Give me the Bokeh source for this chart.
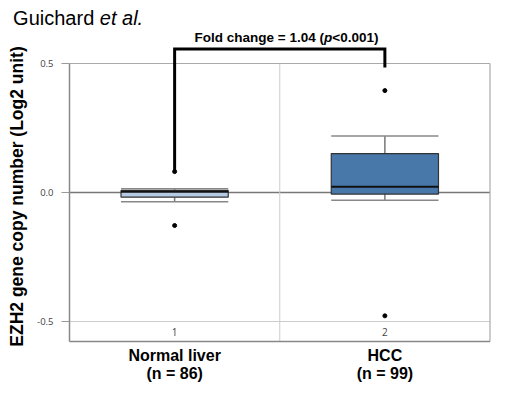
import math
from bokeh.plotting import figure
from bokeh.models import Range1d, ColumnDataSource
from bokeh.transform import dodge
from bokeh.core.properties import value
from bokeh.embed import file_html
from bokeh.resources import INLINE

# ---- data ----
groups = [1, 2]
group_labels = ["Normal liver", "HCC"]
group_counts = ["(n = 86)", "(n = 99)"]
tick_names = ["1", "2"]
q1 = [-0.018, -0.006]
q3 = [0.008, 0.151]
median = [0.003, 0.022]
whisker_low = [-0.036, -0.030]
whisker_high = [0.015, 0.219]
outlier_group = [1, 1, 2, 2]
outlier_value = [0.081, -0.128, 0.395, -0.478]
box_colors = ["#b4cbe3", "#4877aa"]
fold_text = ["Fold change = 1.04 (", "p", "<0.001)"]
title_text = ["Guichard", "et al."]
y_title = "EZH2 gene copy number (Log2 unit)"
y_ticks = [-0.5, 0.0, 0.5]
y_tick_labels = ["%.1f" % t for t in y_ticks]

FONT = value("Liberation Sans")

# the frame spans the whole canvas; visible plot box is x 0.5..2.5, y -0.578..0.5
p = figure(width=491, height=388, output_backend="svg", toolbar_location=None,
           x_range=Range1d(0.17182, 2.50713), y_range=Range1d(-0.75969, 0.74419),
           min_border=0, x_axis_type=None, y_axis_type=None)
p.outline_line_color = None
p.background_fill_color = "white"
p.border_fill_color = "white"
p.grid.visible = False

x_lo, x_hi = 0.5, 2.5
y_top, y_bot = 0.5, -0.578
px_x = 1 / 210.25  # one pixel in x data units
px_y = 1 / 258.0   # one pixel in y data units

# frame / grid lines
p.segment(x0=[x_lo], y0=[0.0], x1=[x_hi], y1=[0.0], line_color="#777777", line_width=1.5)
p.segment(x0=[x_lo], y0=[-0.5], x1=[x_hi], y1=[-0.5], line_color="#cccccc", line_width=1)
p.segment(x0=[1.5], y0=[y_bot], x1=[1.5], y1=[y_top], line_color="#cccccc", line_width=1)
p.segment(x0=[x_lo], y0=[y_top], x1=[x_hi], y1=[y_top], line_color="#aaaaaa", line_width=1.2)
p.segment(x0=[x_hi], y0=[y_bot], x1=[x_hi], y1=[y_top], line_color="#aaaaaa", line_width=1.2)
p.segment(x0=[x_lo], y0=[y_bot], x1=[x_lo], y1=[y_top], line_color="#888888", line_width=1.5)
p.segment(x0=[x_lo], y0=[y_bot], x1=[x_hi], y1=[y_bot], line_color="#888888", line_width=1.5)

# y ticks and labels
p.segment(x0=[x_lo - 8 * px_x] * 3, y0=y_ticks, x1=[x_lo] * 3, y1=y_ticks,
          line_color="#999999", line_width=1)
p.text(x=[x_lo - 16 * px_x] * 3, y=y_ticks, text=y_tick_labels, text_font=value("Open Sans"),
       text_font_size="9.5px", text_color="#444444", text_align="right",
       text_baseline="middle")

# boxes
src = ColumnDataSource(dict(x=groups, q1=q1, q3=q3, med=median, lo=whisker_low,
                            hi=whisker_high, color=box_colors))
bw = 0.51
p.segment(x0="x", y0="q3", x1="x", y1="hi", source=src, line_color="#777777", line_width=1.5)
p.segment(x0="x", y0="q1", x1="x", y1="lo", source=src, line_color="#777777", line_width=1.5)
p.vbar(x="x", bottom="q1", top="q3", width=bw, source=src, fill_color="color",
       line_color="#333333", line_width=1.2)
p.segment(x0=dodge("x", -bw / 2), y0="med", x1=dodge("x", bw / 2), y1="med", source=src,
          line_color="#111111", line_width=2)
p.segment(x0=dodge("x", -bw / 2), y0="hi", x1=dodge("x", bw / 2), y1="hi", source=src,
          line_color="#888888", line_width=1.5)
p.segment(x0=dodge("x", -bw / 2), y0="lo", x1=dodge("x", bw / 2), y1="lo", source=src,
          line_color="#888888", line_width=1.5)

# outliers
p.scatter(x=outlier_group, y=outlier_value, size=4, color="black")

# group numbers inside bottom band
p.text(x=groups, y=[(-0.5 + y_bot) / 2] * 2, text=tick_names, text_font=value("Open Sans"),
       text_font_size="10px", text_color="#444444", text_align="center",
       text_baseline="middle")

# category labels below the box
p.text(x=groups, y=[y_bot - 14 * px_y] * 2, text=group_labels, text_font=FONT,
       text_font_style="bold", text_font_size="16px", text_color="black",
       text_align="center", text_baseline="middle")
p.text(x=groups, y=[y_bot - 32 * px_y] * 2, text=group_counts, text_font=FONT,
       text_font_style="bold", text_font_size="16px", text_color="black",
       text_align="center", text_baseline="middle")

# bracket
p.line(x=[groups[0], groups[0], groups[1], groups[1]],
       y=[outlier_value[0], y_top + 14.6 * px_y, y_top + 14.6 * px_y, y_top - 4 * px_y],
       line_color="black", line_width=3, line_join="miter")

# fold change label
fy = y_top + 25.6 * px_y
p.text(x=[1.7105], y=[fy], text=[fold_text[0]], text_font=FONT, text_font_style="bold",
       text_font_size="13.5px", text_align="right", text_baseline="middle")
p.text(x=[1.730], y=[fy], text=[fold_text[1]], text_font=FONT,
       text_font_style="bold italic", text_font_size="13.5px",
       text_align="center", text_baseline="middle")
p.text(x=[1.750], y=[fy], text=[fold_text[2]], text_font=FONT, text_font_style="bold",
       text_font_size="13.5px", text_align="left", text_baseline="middle")

# title
ty = y_top + 46 * px_y
p.text(x=[0.2318], y=[ty], text=[title_text[0]], text_font=FONT, text_font_size="20px",
       text_align="left", text_baseline="middle")
p.text(x=[0.6441], y=[ty], text=[title_text[1]], text_font=FONT, text_font_style="italic",
       text_font_size="20px", text_align="left", text_baseline="middle")

# y axis title
p.text(x=[0.2503], y=[-0.0155], text=[y_title], text_font=FONT, text_font_style="bold",
       text_font_size="17.5px", angle=math.pi / 2, text_align="center",
       text_baseline="middle")

open("out.html", "w").write(file_html(p, INLINE))
